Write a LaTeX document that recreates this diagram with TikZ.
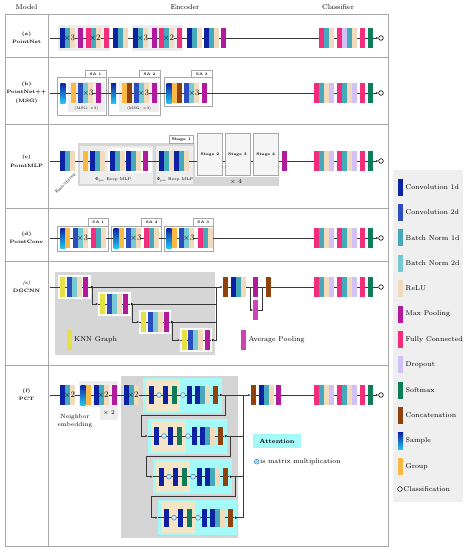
\documentclass[tikz,border=0pt]{standalone}
\usepackage{fontspec}
\newfontfamily\grk{DejaVu Serif}
\usepackage{xcolor}
\usepackage{tikz}
\usetikzlibrary{arrows.meta,calc}
\definecolor{cvA}{HTML}{0D22A3}
\definecolor{cvB}{HTML}{2B4DBE}
\definecolor{bnA}{HTML}{45A9BC}
\definecolor{bnB}{HTML}{77C9D2}
\definecolor{reluC}{HTML}{F2DBBC}
\definecolor{mpC}{HTML}{B21A9E}
\definecolor{fcC}{HTML}{F22D7B}
\definecolor{dpC}{HTML}{D2C1F6}
\definecolor{smC}{HTML}{0E7B59}
\definecolor{catC}{HTML}{8F420B}
\definecolor{grpC}{HTML}{FAB844}
\definecolor{cyS}{HTML}{22C5F0}
\definecolor{knnC}{HTML}{E5E144}
\definecolor{avpC}{HTML}{D242B6}
\definecolor{lineC}{HTML}{383838}
\definecolor{frameC}{HTML}{A8A8A8}
\definecolor{legbg}{HTML}{EFEFEF}
\definecolor{lgray}{HTML}{EDEDED}
\definecolor{stgray}{HTML}{D6D6D6}
\definecolor{attgray}{HTML}{D4D4D4}
\definecolor{attcy}{HTML}{A4F9F9}
\definecolor{tanC}{HTML}{F3E5C5}
\definecolor{otc}{HTML}{2A86C8}
\newcommand{\fs}[2][]{\fontsize{#2}{#1}\selectfont}
\tikzset{
  cv1/.style={fill=cvA}, cv2/.style={fill=cvB},
  bn1/.style={fill=bnA}, bn2/.style={fill=bnB},
  relu/.style={fill=reluC}, mp/.style={fill=mpC},
  fc/.style={fill=fcC}, dp/.style={fill=dpC},
  sm/.style={fill=smC}, cat/.style={fill=catC},
  grp/.style={fill=grpC}, knn/.style={fill=knnC}, avp/.style={fill=avpC},
  smp/.style={top color=cvA, bottom color=cyS},
  wire/.style={draw=lineC, line width=.7pt},
  wirearr/.style={wire, -{Latex[length=2.4pt,width=2.2pt]}},
  jdot/.style={circle, fill=black, inner sep=0pt, minimum size=2.4pt},
  endc/.style={circle, draw=black, line width=.6pt, fill=white, inner sep=0pt, minimum size=4.6pt},
  tframe/.style={draw=frameC, line width=1pt},
  hdr/.style={font={\fs[8]{7}}},
  model/.style={font={\fs[8.5]{4.8}\bfseries}, align=center},
  leg/.style={font={\fs[8]{7}}, anchor=west, inner sep=0pt},
  rep/.style={font={\fs[9]{8.5}}, inner sep=0pt},
  sabox/.style={draw=frameC, line width=.5pt, fill=white},
  salbl/.style={draw=frameC, line width=.5pt, fill=white, font={\fs[4]{3.6}\bfseries}, inner sep=0pt, minimum width=21pt, minimum height=6.5pt},
  msg/.style={font={\fs[4]{3.6}}, inner sep=0pt},
  small/.style={font={\fs[4]{4}}, inner sep=0pt},
  stage/.style={draw=frameC, line width=.5pt, fill=gray!8, font={\fs[4]{3.8}\bfseries}, inner sep=0pt, minimum width=25.4pt, minimum height=41.7pt},
  blkbox/.style={fill=white!92!gray, draw=white, line width=.5pt}
}
% one bar per style in the list
\newcommand{\blocks}[4][20]{%
  \foreach \s [count=\i from 0] in {#4}
    \path[\s] ({#2+5*\i},{#3-#1/2}) rectangle ++(5,#1);}
\newcommand{\clsf}[1]{%
  \blocks{314.3}{#1}{fc,bn1,relu,dp}\blocks{337.3}{#1}{fc,bn1,relu,dp}%
  \blocks{360}{#1}{fc}\blocks{367.7}{#1}{sm}}
\newcommand{\otm}[2]{%
  \fill[otc] (#1,#2) circle (2.7);
  \draw[white, line width=.45pt] (#1-1.4,#2-1.4) -- (#1+1.4,#2+1.4) (#1-1.4,#2+1.4) -- (#1+1.4,#2-1.4);
  \draw[white, line width=.3pt] (#1,#2) circle (1.9);}
\begin{document}
\begin{tikzpicture}[x=1pt,y=-1pt]
\useasboundingbox (0,0) rectangle (469,550);

\node[hdr] (hModel) at (26.5,7) {Model};
\node[hdr] (hEnc) at (185,7) {Encoder};
\node[hdr] (hCls) at (338,7) {Classifier};

\draw[tframe] (5,14) rectangle (388,546);
\draw[tframe] (48,14) -- (48,546);
\foreach \y in {57.3,124.3,208,261.5,365} \draw[tframe] (5,\y) -- (388,\y);

% legend
\fill[legbg] (393,169.5) rectangle (463,502.3);
\foreach \s/\t [count=\i from 0] in {cv1/Convolution 1d, cv2/Convolution 2d, bn1/Batch Norm 1d, bn2/Batch Norm 2d, relu/ReLU, mp/Max Pooling, fc/Fully Connected, dp/Dropout, sm/Softmax, cat/Concatenation, smp/Sample, grp/Group}{
  \path[\s] (398,{187+25.4*\i-8.5}) rectangle ++(5,17);
  \node[leg] (leg\i) at (405.5,{187+25.4*\i}) {\t};
}
\node[endc] (legC) at (400,489) {};
\node[leg] (legCt) at (403.5,489) {Classification};

\node[model] (mA) at (26.5,37.5) {(a)\\PointNet};
\node[model] (mB) at (26.5,92.5) {(b)\\PointNet++\\(MSG)};
\node[model] (mC) at (26.5,161) {(c)\\PointMLP};
\node[model] (mD) at (26.5,237.5) {(d)\\PointConv};
\node[model] (mE) at (26.5,286.5) {\textit{(e)}\\DGCNN};
\node[model] (mF) at (26.5,394.5) {(f)\\PCT};

% (a) PointNet
\fill[lgray] (58,25) rectangle (110,51);
\fill[lgray] (131.7,25) rectangle (183.3,51);
\coordinate (aIn) at (50,38);
\node[endc] (aOut) at (381,38) {};
\draw[wirearr] (aIn) -- (aOut);
\blocks{60.3}{38}{cv1,bn1,relu}
\blocks{77.7}{38}{mp}
\blocks{86}{38}{fc,bn1,relu}
\blocks{103.7}{38}{fc}
\blocks{113.3}{38}{cv1,bn1,relu}
\blocks{133.3}{38}{cv1,bn1,relu}
\blocks{151.7}{38}{mp}
\blocks{159.3}{38}{fc,bn1,relu}
\blocks{177}{38}{fc}
\blocks{187.3}{38}{cv1,bn1,relu}
\blocks{204}{38}{cv1,bn1,relu}
\blocks{221}{38}{mp}
\node[rep] (aR1) at (69.5,38) {×3};
\node[rep] (aR2) at (95,38) {×2};
\node[rep] (aR3) at (142.5,38) {×3};
\node[rep] (aR4) at (168.5,38) {×2};
\blocks{319.3}{38}{fc,bn1,relu}
\blocks{337.3}{38}{fc,dp,bn1,relu}
\blocks{360}{38}{fc}
\blocks{367.7}{38}{sm}

% (b) PointNet++ (MSG)
\draw[sabox] (57.7,77) rectangle (106,115);
\draw[sabox] (108.3,77) rectangle (160,115);
\draw[sabox] (164.3,77) rectangle (212.3,106);
\fill[lgray] (68.3,81.5) rectangle (104.5,112);
\fill[lgray] (119.3,81.5) rectangle (158.5,112);
\node[salbl] (bSA1) at (95.5,73.75) {SA 1};
\node[salbl] (bSA2) at (149.5,73.75) {SA 2};
\node[salbl] (bSA3) at (201.8,73.75) {SA 3};
\node[msg] (bM1) at (86.4,108.7) {(MSG: ×3)};
\node[msg] (bM2) at (139,108.7) {(MSG: ×3)};
\coordinate (bIn) at (50,93);
\node[endc] (bOut) at (381,93) {};
\draw[wirearr] (bIn) -- (bOut);
\blocks{60.3}{93}{smp}
\blocks{71}{93}{grp}
\blocks{78.3}{93}{cv2,bn2,relu}
\blocks{96}{93}{mp}
\blocks{111}{93}{smp}
\blocks{121.7}{93}{grp,cat}
\blocks{134}{93}{cv2,bn2,relu}
\blocks{151.7}{93}{mp}
\blocks{166.7}{93}{smp,grp,cat}
\blocks{184.3}{93}{cv2,bn2,relu}
\blocks{202.3}{93}{mp}
\node[rep] (bR1) at (88,93) {×3};
\node[rep] (bR2) at (143.5,93) {×3};
\node[rep] (bR3) at (194,93) {×3};
\clsf{93}

% (c) PointMLP
\fill[stgray] (77.7,143.3) rectangle (195,186);
\fill[gray!14] (80,145.5) rectangle (153.3,183.5);
\fill[gray!14] (156,145.5) rectangle (193,183.5);
\fill[white] (108.3,148.3) rectangle (151.7,173.3);
\node[salbl, minimum width=24pt, minimum height=8.3pt, font={\fs[4]{4}\bfseries}] (cS1) at (181.3,139.2) {Stage 1};
\fill[stgray] (195,176.7) rectangle (279,186);
\node[font={\fs[6]{6}}, inner sep=0pt] (cX4) at (236,181.5) {× 4};
\node[small] (cPre) at (113.3,179.6) {{\grk Φ}\textsubscript{pre} Resp MLP};
\node[small] (cPos) at (175,179.6) {{\grk Φ}\textsubscript{pos} Resp MLP};
\node[small, rotate=45] (cEmb) at (65.5,183.5) {Embedding};
\coordinate (cIn) at (50,161);
\node[endc] (cOut) at (381,161) {};
\draw[wirearr] (cIn) -- (cOut);
\node[stage] (cS2) at (210,154.2) {Stage 2};
\node[stage] (cS3) at (237.5,154.2) {Stage 3};
\node[stage] (cS4) at (265.8,154.2) {Stage 4};
\blocks{60.3}{161}{cv1,bn1,relu}
\blocks{82.7}{161}{grp}
\blocks{90.3}{161}{cv1,bn1,relu}
\blocks{110}{161}{cv1,bn1,relu}
\blocks{126}{161}{cv1,bn1,relu}
\blocks{143.3}{161}{mp}
\blocks{159.3}{161}{cv1,bn1,relu}
\blocks{174}{161}{cv1,bn1,relu}
\blocks{281.7}{161}{mp}
\clsf{161}

% (d) PointConv
\draw[sabox] (57.7,226.7) rectangle (108.3,251.7);
\draw[sabox] (111,226.7) rectangle (161.7,251.7);
\draw[sabox] (164.3,226.7) rectangle (213.3,251.7);
\node[salbl, minimum width=20pt, minimum height=8.4pt] (dSA1) at (98.3,222.5) {SA 1};
\node[salbl, minimum width=20pt, minimum height=8.4pt] (dSA2) at (151.7,222.5) {SA 2};
\node[salbl, minimum width=20pt, minimum height=8.4pt] (dSA3) at (203.3,222.5) {SA 3};
\coordinate (dIn) at (50,238);
\node[endc] (dOut) at (381,238) {};
\draw[wirearr] (dIn) -- (dOut);
\blocks{60.3}{238}{smp,grp}
\blocks{73}{238}{cv2,bn2,relu}
\blocks{91}{238}{fc,bn1,relu}
\blocks{113.7}{238}{smp,grp}
\blocks{126.3}{238}{cv2,bn2,relu}
\blocks{144.3}{238}{fc,bn1,relu}
\blocks{166.7}{238}{smp,grp}
\blocks{179.3}{238}{cv2,bn2,relu}
\blocks{197.7}{238}{fc,bn1,relu}
\node[rep] (dR1) at (82.5,238) {×3};
\node[rep] (dR2) at (135.8,238) {×3};
\node[rep] (dR3) at (188.8,238) {×3};
\clsf{238}

% (e) DGCNN
\fill[stgray] (55,271.7) rectangle (215,355);
\fill[blkbox] (58.3,275) rectangle (90,298.3);
\fill[blkbox] (98.3,292.7) rectangle (130,315.5);
\fill[blkbox] (139.3,310.7) rectangle (170.7,333.3);
\fill[blkbox] (180,328.3) rectangle (211.7,351.7);
\coordinate (eIn) at (50,287);
\coordinate (eCatIn) at (222.7,287);
\node[endc] (eOut) at (381,287) {};
\draw[wirearr] (eIn) -- (eCatIn);
\draw[wire] (eCatIn) -- (eOut);
\node[jdot] (e1) at (91.7,287) {};
\node[jdot] (e2) at (131.7,304) {};
\node[jdot] (e3) at (171.7,322) {};
\node[jdot] (e4) at (212.7,340) {};
\coordinate (e2in) at (98.3,304);
\coordinate (e3in) at (139.3,322);
\coordinate (e4in) at (180,340);
\draw[wire] (e2in) -- (e2);
\draw[wire] (e3in) -- (e3);
\draw[wire] (e4in) -- (e4);
\draw[wirearr] (e1.center) -- ++(1,0) |- (e2in);
\draw[wirearr] (e2.center) -- ++(1,0) |- (e3in);
\draw[wirearr] (e3.center) -- ++(1,0) |- (e4in);
\coordinate (eC1) at (216.7,287);
\coordinate (eC4) at (216.7,340);
\draw[wire] (eC1) -- (eC4);
\draw[wire] (e2) -- (216.7,304);
\draw[wire] (e3) -- (216.7,322);
\draw[wire] (e4) -- (eC4);
\blocks{60.3}{287}{knn}
\blocks{66.7}{287}{cv2,bn2,relu}
\blocks{83.3}{287}{mp}
\blocks{100.3}{304}{knn}
\blocks{106.7}{304}{cv2,bn2,relu}
\blocks{123.3}{304}{mp}
\blocks{141.3}{322}{knn}
\blocks{147.7}{322}{cv2,bn2,relu}
\blocks{164.3}{322}{mp}
\blocks{182}{340}{knn}
\blocks{188.4}{340}{cv2,bn2,relu}
\blocks{205}{340}{mp}
\coordinate (eSp) at (250,287);
\coordinate (eAvIn) at (253.3,310);
\coordinate (eAvOut) at (258.3,310);
\coordinate (eJn) at (262.3,287);
\draw[wirearr] (eSp) |- (eAvIn);
\draw[wire] (eAvOut) -| (eJn);
\blocks{222.7}{287}{cat}
\blocks{231}{287}{cv1,bn1,relu}
\blocks{253.3}{287}{mp}
\blocks{253.3}{310}{avp}
\blocks{266}{287}{cat}
\clsf{287}
\path[knn] (66.7,330) rectangle (71.7,350);
\node[leg] (eKnn) at (74,340) {KNN Graph};
\path[avp] (241,330) rectangle (246,350);
\node[leg] (eAvg) at (248.3,340) {Average Pooling};

% (f) PCT
\fill[lgray] (79.3,381) rectangle (118.3,406.5);
\fill[lgray] (100,406.5) rectangle (118.3,419.7);
\node[font={\fs[6]{6}}, inner sep=0pt] (fX2) at (109,413) {× 2};
\node[font={\fs[8.5]{6}}, align=center, inner sep=0pt] (fNb) at (75,421) {Neighbor\\embedding};
\fill[attgray] (120.7,376) rectangle (238.3,538.3);
\coordinate (fIn) at (50,395);
\foreach \k/\yy in {0/395,1/436,2/476.7,3/517.7}{
  \pgfmathsetmacro{\xx}{142.7+5*\k}
  \fill[attcy] (\xx,\yy-17.5) rectangle ++(79,35);
  \fill[tanC] (\xx+3,\yy-15.5) rectangle ++(34.3,31);
  \coordinate (fAi\k) at (\xx,\yy);
  \node[jdot] (fAo\k) at (\xx+78,\yy) {};
  \draw[wire] (fAi\k) -- (fAo\k);
  \blocks[18]{\xx+6.3}{\yy}{cv1}
  \blocks[18]{\xx+20.6}{\yy}{cv1}
  \blocks[18]{\xx+29.3}{\yy}{sm}
  \blocks[18]{\xx+44.6}{\yy}{cv1}
  \blocks[18]{\xx+52.6}{\yy}{cv1,bn1,relu}
  \blocks[18]{\xx+70}{\yy}{cat}
  \otm{\xx+16.3}{\yy}
  \otm{\xx+40.3}{\yy}
}
\foreach \k/\yy/\yn in {0/395/436,1/436/476.7,2/476.7/517.7}{
  \pgfmathsetmacro{\xx}{142.7+5*\k}
  \pgfmathtruncatemacro{\kn}{\k+1}
  \coordinate (fL\k) at (\xx+83,\yy);
  \draw[wirearr] (fL\k) -- (\xx+83,\yy+20) -| (\xx-1,\yn) -- (fAi\kn);
}
\coordinate (fCt) at (243,395);
\coordinate (fCb) at (243,517.7);
\draw[wire] (fCt) -- (fCb);
\draw[wire] (fAo1) -- (243,436);
\draw[wire] (fAo2) -- (243,476.7);
\draw[wire] (fAo3) -- (fCb);
\coordinate (fCatIn) at (250.7,395);
\node[endc] (fOut) at (381,395) {};
\draw[wire] (fIn) -- (fAi0);
\draw[wirearr] (fAo0) -- (fCatIn);
\draw[wirearr] (fCatIn) -- (fOut);
\blocks{60.3}{395}{cv1,bn1,relu}
\blocks{80.7}{395}{smp}
\blocks{86}{395}{grp}
\blocks{94}{395}{cv1,bn1,relu}
\blocks{111.7}{395}{mp}
\blocks{124}{395}{cv1,bn1,relu}
\node[rep] (fR1) at (69.5,395) {×2};
\node[rep] (fR2) at (103,395) {×2};
\node[rep] (fR3) at (133,395) {×2};
\blocks{250.7}{395}{cat}
\blocks{259.3}{395}{cv1,bn1,relu}
\blocks{276}{395}{mp}
\clsf{395}
\node[fill=attcy, inner sep=0pt, minimum width=47.4pt, minimum height=14pt, font={\fs[6]{6}\bfseries}] (fAtt) at (277,441.3) {Attention};
\otm{256.7}{461.7}
\node[leg, font={\fs[7]{6.8}}] (fMul) at (260,461.7) {is matrix multiplication};
\end{tikzpicture}
\end{document}
